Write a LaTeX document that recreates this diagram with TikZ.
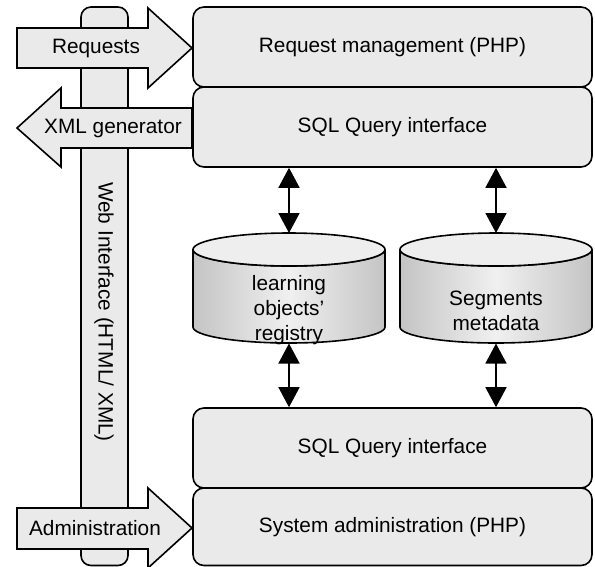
\documentclass[tikz,border=0pt]{standalone}
\usepackage{fontspec}
\setmainfont{Liberation Sans}
\usetikzlibrary{arrows.meta}
\definecolor{boxgray}{HTML}{EAEAEA}
\definecolor{cylside}{HTML}{C4C4C4}
\definecolor{cylmid}{HTML}{F0F0F0}
\definecolor{cyltop}{HTML}{EEEEEE}
\begin{document}
\begin{tikzpicture}[x=1pt,y=-1pt,
  line width=1.6pt, line join=round,
  txt/.style={font=\fontsize{20.8}{25}\selectfont},
  layer/.style={txt, draw, fill=boxgray, rounded corners=11pt,
    minimum width=399pt, minimum height=80pt, inner sep=0pt},
  blockarrow/.style={draw, fill=boxgray, line join=miter},
  lbl/.style={txt, inner sep=0pt, align=center},
  dbl/.style={{Triangle[length=20pt,width=21pt]}-{Triangle[length=20pt,width=21pt]}},
  db/.pic={
    \path[draw, left color=cylside, right color=cylside, middle color=cylmid]
      (-96,0) -- (-96,77.5)
      arc[start angle=180, end angle=0, x radius=96, y radius=16]
      -- (96,0)
      arc[start angle=0, end angle=180, x radius=96, y radius=16.5] -- cycle;
    \path[draw, fill=cyltop] (0,0) ellipse[x radius=96, y radius=16.5];
  },
]
\useasboundingbox (0,0) rectangle (595,566);

% web interface column
\node[draw, fill=boxgray, rounded corners=10pt, minimum width=47pt,
  minimum height=558.5pt, inner sep=0pt] (webbar) at (104.5,286.25) {};
\node[lbl, rotate=-90] (weblbl) at (104,312) {Web Interface (HTML/ XML)};

% block arrows in and out of the web interface
\path[blockarrow] (17,28) -- (148,28) -- (148,8) -- (192,48) -- (148,88)
  -- (148,68) -- (17,68) -- cycle;
\node[lbl] (reqlbl) at (96,48) {Requests};
\path[blockarrow] (192,108) -- (61,108) -- (61,88) -- (17,128) -- (61,167)
  -- (61,148) -- (192,148) -- cycle;
\node[lbl] (xmllbl) at (113,128) {XML generator};
\path[blockarrow] (17,508) -- (148,508) -- (148,488) -- (192,528) -- (148,568)
  -- (148,549) -- (17,549) -- cycle;
\node[lbl] (admlbl) at (95,528) {Administration};

% layers
\node[layer] (reqmgmt) at (392.5,47) {Request management (PHP)};
\node[layer] (sqltop) at (392.5,127) {SQL Query interface};
\node[layer] (sqlbot) at (392.5,448) {SQL Query interface};
\node[layer, minimum height=77.5pt] (sysadm) at (392.5,526.75) {System administration (PHP)};

% databases
\pic (lodb) at (289,249.5) {db};
\pic (segdb) at (496,249.5) {db};
\coordinate (lotop) at (289,233);
\coordinate (lobot) at (289,343.5);
\coordinate (segtop) at (496,233);
\coordinate (segbot) at (496,343.5);
\node[lbl] (lolbl) at (289,310) {learning\\objects’\\registry};
\node[lbl] (seglbl) at (496,310.5) {Segments\\metadata};

% query links
\draw[dbl] (sqltop.south -| lotop) -- (lotop);
\draw[dbl] (sqltop.south -| segtop) -- (segtop);
\draw[dbl] (lobot) -- (lobot |- sqlbot.north);
\draw[dbl] (segbot) -- (segbot |- sqlbot.north);
\end{tikzpicture}
\end{document}
